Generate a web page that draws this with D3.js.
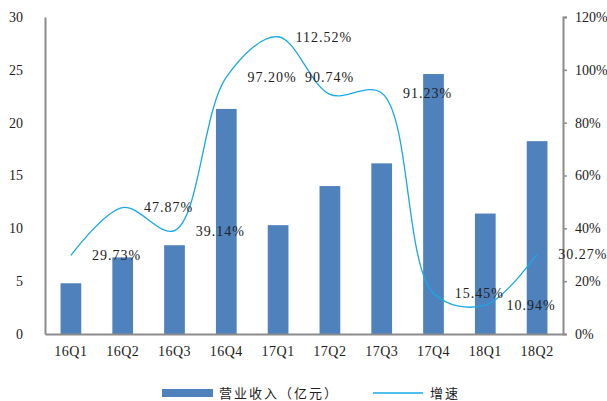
<!DOCTYPE html>
<html>
<head>
<meta charset="utf-8">
<script src="https://cdn.jsdelivr.net/npm/d3@7"></script>
<style>
  body { margin: 0; background: #fff; }
  text { font-family: "Liberation Serif", "Times New Roman", serif; fill: #222; }
  .cjk { font-family: "Noto Sans CJK SC", sans-serif; }
</style>
</head>
<body>
<div id="chart"></div>
<script>
var categories = ["16Q1", "16Q2", "16Q3", "16Q4", "17Q1", "17Q2", "17Q3", "17Q4", "18Q1", "18Q2"];
var revenue = [4.8, 7.25, 8.4, 21.3, 10.3, 14.0, 16.15, 24.6, 11.4, 18.25];
var growth = [29.73, 47.87, 39.14, 97.20, 112.52, 90.74, 91.23, 15.45, 10.94, 30.27];
var leftTicks = [0, 5, 10, 15, 20, 25, 30];
var rightTicks = [0, 20, 40, 60, 80, 100, 120];

var width = 607, height = 401;
var plot = {left: 45, right: 563, top: 17, bottom: 334};

var svg = d3.select("#chart").append("svg")
    .attr("width", width)
    .attr("height", height);

var x = d3.scaleBand()
    .domain(categories)
    .range([plot.left, plot.right])
    .paddingInner(0.6)
    .paddingOuter(0.3);

var yLeft = d3.scaleLinear().domain([0, 30]).range([plot.bottom, plot.top]);
var yRight = d3.scaleLinear().domain([0, 120]).range([plot.bottom, plot.top]);

// bars
svg.selectAll(".bar")
    .data(revenue)
    .enter().append("rect")
    .attr("class", "bar")
    .attr("x", function(d, i) { return x(categories[i]); })
    .attr("y", function(d) { return yLeft(d); })
    .attr("width", x.bandwidth())
    .attr("height", function(d) { return plot.bottom - yLeft(d); })
    .attr("fill", "#4f81bd");

// growth line (smoothed like excel)
var line = d3.line()
    .x(function(d, i) { return x(categories[i]) + x.bandwidth() / 2; })
    .y(function(d) { return yRight(d); })
    .curve(d3.curveCatmullRom.alpha(0.5));

svg.append("path")
    .datum(growth)
    .attr("d", line)
    .attr("fill", "none")
    .attr("stroke", "#19a9e6")
    .attr("stroke-width", 1.3);

// axes
var leftAxis = svg.append("g")
    .attr("transform", "translate(" + plot.left + ",0)")
    .call(d3.axisLeft(yLeft).tickValues(leftTicks).tickSize(0).tickPadding(22));
var rightAxis = svg.append("g")
    .attr("transform", "translate(" + plot.right + ",0)")
    .call(d3.axisRight(yRight).tickValues(rightTicks).tickSize(4).tickPadding(8)
      .tickFormat(function(d) { return d + "%"; }));
var bottomAxis = svg.append("g")
    .attr("transform", "translate(0," + plot.bottom + ")")
    .call(d3.axisBottom(x).tickSize(0).tickPadding(12));

[leftAxis, rightAxis, bottomAxis].forEach(function(a) {
  a.select(".domain").attr("stroke", "#8c8c8c").attr("stroke-width", 2);
  a.selectAll(".tick line").attr("stroke", "#8c8c8c").attr("stroke-width", 1.5);
  a.selectAll("text")
    .style("font-family", "'Liberation Serif', serif")
    .style("font-size", "14px")
    .style("fill", "#222");
});
bottomAxis.selectAll("text").style("letter-spacing", "0.5px");
leftAxis.selectAll("text").attr("text-anchor", "end").attr("x", -22);

// data labels: placed half a step right of each point, one moved by hand
var nudge = {5: {dx: -46, dy: -17}};
svg.selectAll(".lbl")
    .data(growth)
    .enter().append("text")
    .attr("class", "lbl")
    .attr("x", function(d, i) {
      var n = nudge[i] ? nudge[i].dx : 0;
      return x(categories[i]) + x.bandwidth() / 2 + x.step() - 6 + n;
    })
    .attr("y", function(d, i) {
      var n = nudge[i] ? nudge[i].dy : 0;
      return yRight(d) + n;
    })
    .attr("dy", "0.35em")
    .attr("text-anchor", "middle")
    .style("font-size", "14px")
    .style("letter-spacing", "1px")
    .text(function(d) { return d.toFixed(2) + "%"; });

// legend
var legend = svg.append("g");
legend.append("rect")
    .attr("x", 162).attr("y", 389)
    .attr("width", 51).attr("height", 8)
    .attr("fill", "#4f81bd");
legend.append("text")
    .attr("class", "cjk")
    .attr("x", 219).attr("y", 393).attr("dy", "0.35em")
    .style("font-size", "13px")
    .style("letter-spacing", "2px")
    .text("营业收入（亿元）");
legend.append("line")
    .attr("x1", 373).attr("x2", 423)
    .attr("y1", 393).attr("y2", 393)
    .attr("stroke", "#19a9e6").attr("stroke-width", 1.3);
legend.append("text")
    .attr("class", "cjk")
    .attr("x", 430).attr("y", 393).attr("dy", "0.35em")
    .style("font-size", "13px")
    .style("letter-spacing", "2px")
    .text("增速");
</script>
</body>
</html>
